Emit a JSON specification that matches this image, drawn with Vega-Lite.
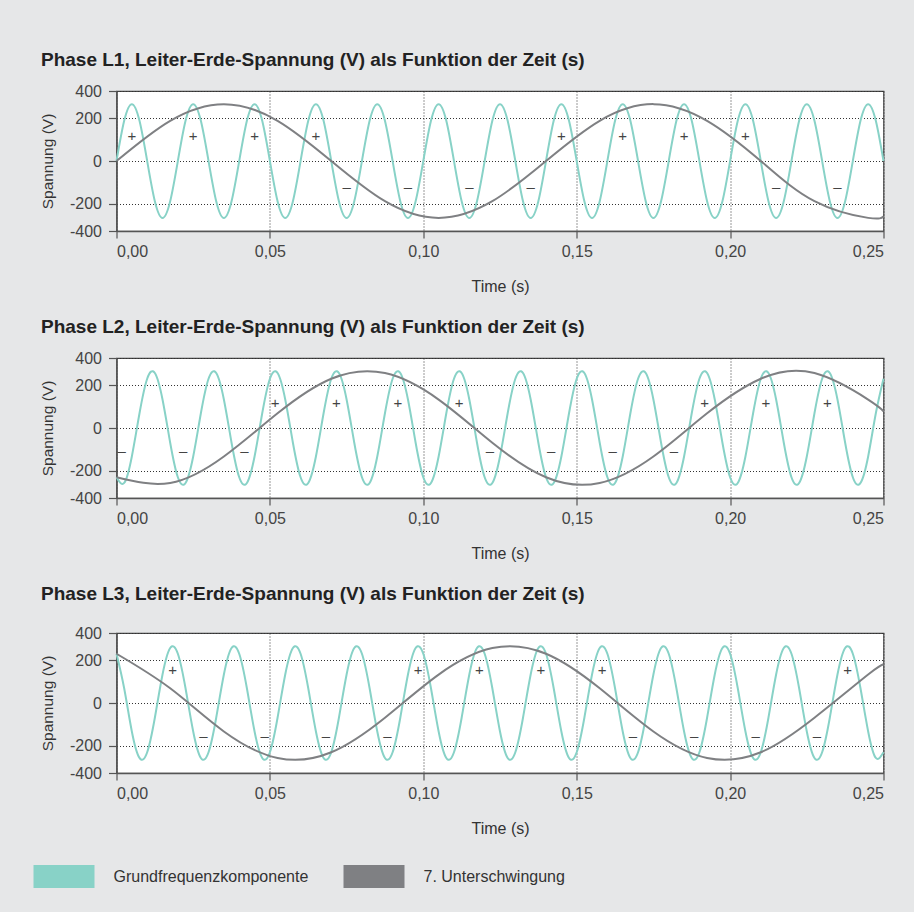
{
  "$schema": "https://vega.github.io/schema/vega-lite/v6.json",
  "background": "#e6e7e8",
  "padding": {"left": 21.5, "top": 49, "right": 26, "bottom": 0},
  "datasets": {
    "teal1": [
      {"t":0,"u":0},{"t":0.0025,"u":229.8},{"t":0.005,"u":325},{"t":0.0075,"u":229.8},{"t":0.01,"u":0},{"t":0.0125,"u":-229.8},{"t":0.015,"u":-325},{"t":0.0175,"u":-229.8},
      {"t":0.02,"u":0},{"t":0.0225,"u":229.8},{"t":0.025,"u":325},{"t":0.0275,"u":229.8},{"t":0.03,"u":0},{"t":0.0325,"u":-229.8},{"t":0.035,"u":-325},{"t":0.0375,"u":-229.8},
      {"t":0.04,"u":0},{"t":0.0425,"u":229.8},{"t":0.045,"u":325},{"t":0.0475,"u":229.8},{"t":0.05,"u":0},{"t":0.0525,"u":-229.8},{"t":0.055,"u":-325},{"t":0.0575,"u":-229.8},
      {"t":0.06,"u":0},{"t":0.0625,"u":229.8},{"t":0.065,"u":325},{"t":0.0675,"u":229.8},{"t":0.07,"u":0},{"t":0.0725,"u":-229.8},{"t":0.075,"u":-325},{"t":0.0775,"u":-229.8},
      {"t":0.08,"u":0},{"t":0.0825,"u":229.8},{"t":0.085,"u":325},{"t":0.0875,"u":229.8},{"t":0.09,"u":0},{"t":0.0925,"u":-229.8},{"t":0.095,"u":-325},{"t":0.0975,"u":-229.8},
      {"t":0.1,"u":0},{"t":0.1025,"u":229.8},{"t":0.105,"u":325},{"t":0.1075,"u":229.8},{"t":0.11,"u":0},{"t":0.1125,"u":-229.8},{"t":0.115,"u":-325},{"t":0.1175,"u":-229.8},
      {"t":0.12,"u":0},{"t":0.1225,"u":229.8},{"t":0.125,"u":325},{"t":0.1275,"u":229.8},{"t":0.13,"u":0},{"t":0.1325,"u":-229.8},{"t":0.135,"u":-325},{"t":0.1375,"u":-229.8},
      {"t":0.14,"u":0},{"t":0.1425,"u":229.8},{"t":0.145,"u":325},{"t":0.1475,"u":229.8},{"t":0.15,"u":0},{"t":0.1525,"u":-229.8},{"t":0.155,"u":-325},{"t":0.1575,"u":-229.8},
      {"t":0.16,"u":0},{"t":0.1625,"u":229.8},{"t":0.165,"u":325},{"t":0.1675,"u":229.8},{"t":0.17,"u":0},{"t":0.1725,"u":-229.8},{"t":0.175,"u":-325},{"t":0.1775,"u":-229.8},
      {"t":0.18,"u":0},{"t":0.1825,"u":229.8},{"t":0.185,"u":325},{"t":0.1875,"u":229.8},{"t":0.19,"u":0},{"t":0.1925,"u":-229.8},{"t":0.195,"u":-325},{"t":0.1975,"u":-229.8},
      {"t":0.2,"u":0},{"t":0.2025,"u":229.8},{"t":0.205,"u":325},{"t":0.2075,"u":229.8},{"t":0.21,"u":0},{"t":0.2125,"u":-229.8},{"t":0.215,"u":-325},{"t":0.2175,"u":-229.8},
      {"t":0.22,"u":0},{"t":0.2225,"u":229.8},{"t":0.225,"u":325},{"t":0.2275,"u":229.8},{"t":0.23,"u":0},{"t":0.2325,"u":-229.8},{"t":0.235,"u":-325},{"t":0.2375,"u":-229.8},
      {"t":0.24,"u":0},{"t":0.2425,"u":229.8},{"t":0.245,"u":325},{"t":0.2475,"u":229.8},{"t":0.25,"u":0}
    ],
    "teal2": [
      {"t":0,"u":-281.5},{"t":0.0025,"u":-313.9},{"t":0.005,"u":-162.5},{"t":0.0075,"u":84.1},{"t":0.01,"u":281.5},{"t":0.0125,"u":313.9},{"t":0.015,"u":162.5},{"t":0.0175,"u":-84.1},
      {"t":0.02,"u":-281.5},{"t":0.0225,"u":-313.9},{"t":0.025,"u":-162.5},{"t":0.0275,"u":84.1},{"t":0.03,"u":281.5},{"t":0.0325,"u":313.9},{"t":0.035,"u":162.5},{"t":0.0375,"u":-84.1},
      {"t":0.04,"u":-281.5},{"t":0.0425,"u":-313.9},{"t":0.045,"u":-162.5},{"t":0.0475,"u":84.1},{"t":0.05,"u":281.5},{"t":0.0525,"u":313.9},{"t":0.055,"u":162.5},{"t":0.0575,"u":-84.1},
      {"t":0.06,"u":-281.5},{"t":0.0625,"u":-313.9},{"t":0.065,"u":-162.5},{"t":0.0675,"u":84.1},{"t":0.07,"u":281.5},{"t":0.0725,"u":313.9},{"t":0.075,"u":162.5},{"t":0.0775,"u":-84.1},
      {"t":0.08,"u":-281.5},{"t":0.0825,"u":-313.9},{"t":0.085,"u":-162.5},{"t":0.0875,"u":84.1},{"t":0.09,"u":281.5},{"t":0.0925,"u":313.9},{"t":0.095,"u":162.5},{"t":0.0975,"u":-84.1},
      {"t":0.1,"u":-281.5},{"t":0.1025,"u":-313.9},{"t":0.105,"u":-162.5},{"t":0.1075,"u":84.1},{"t":0.11,"u":281.5},{"t":0.1125,"u":313.9},{"t":0.115,"u":162.5},{"t":0.1175,"u":-84.1},
      {"t":0.12,"u":-281.5},{"t":0.1225,"u":-313.9},{"t":0.125,"u":-162.5},{"t":0.1275,"u":84.1},{"t":0.13,"u":281.5},{"t":0.1325,"u":313.9},{"t":0.135,"u":162.5},{"t":0.1375,"u":-84.1},
      {"t":0.14,"u":-281.5},{"t":0.1425,"u":-313.9},{"t":0.145,"u":-162.5},{"t":0.1475,"u":84.1},{"t":0.15,"u":281.5},{"t":0.1525,"u":313.9},{"t":0.155,"u":162.5},{"t":0.1575,"u":-84.1},
      {"t":0.16,"u":-281.5},{"t":0.1625,"u":-313.9},{"t":0.165,"u":-162.5},{"t":0.1675,"u":84.1},{"t":0.17,"u":281.5},{"t":0.1725,"u":313.9},{"t":0.175,"u":162.5},{"t":0.1775,"u":-84.1},
      {"t":0.18,"u":-281.5},{"t":0.1825,"u":-313.9},{"t":0.185,"u":-162.5},{"t":0.1875,"u":84.1},{"t":0.19,"u":281.5},{"t":0.1925,"u":313.9},{"t":0.195,"u":162.5},{"t":0.1975,"u":-84.1},
      {"t":0.2,"u":-281.5},{"t":0.2025,"u":-313.9},{"t":0.205,"u":-162.5},{"t":0.2075,"u":84.1},{"t":0.21,"u":281.5},{"t":0.2125,"u":313.9},{"t":0.215,"u":162.5},{"t":0.2175,"u":-84.1},
      {"t":0.22,"u":-281.5},{"t":0.2225,"u":-313.9},{"t":0.225,"u":-162.5},{"t":0.2275,"u":84.1},{"t":0.23,"u":281.5},{"t":0.2325,"u":313.9},{"t":0.235,"u":162.5},{"t":0.2375,"u":-84.1},
      {"t":0.24,"u":-281.5},{"t":0.2425,"u":-313.9},{"t":0.245,"u":-162.5},{"t":0.2475,"u":84.1},{"t":0.25,"u":281.5}
    ],
    "teal3": [
      {"t":0,"u":281.5},{"t":0.0025,"u":84.1},{"t":0.005,"u":-162.5},{"t":0.0075,"u":-313.9},{"t":0.01,"u":-281.5},{"t":0.0125,"u":-84.1},{"t":0.015,"u":162.5},{"t":0.0175,"u":313.9},
      {"t":0.02,"u":281.5},{"t":0.0225,"u":84.1},{"t":0.025,"u":-162.5},{"t":0.0275,"u":-313.9},{"t":0.03,"u":-281.5},{"t":0.0325,"u":-84.1},{"t":0.035,"u":162.5},{"t":0.0375,"u":313.9},
      {"t":0.04,"u":281.5},{"t":0.0425,"u":84.1},{"t":0.045,"u":-162.5},{"t":0.0475,"u":-313.9},{"t":0.05,"u":-281.5},{"t":0.0525,"u":-84.1},{"t":0.055,"u":162.5},{"t":0.0575,"u":313.9},
      {"t":0.06,"u":281.5},{"t":0.0625,"u":84.1},{"t":0.065,"u":-162.5},{"t":0.0675,"u":-313.9},{"t":0.07,"u":-281.5},{"t":0.0725,"u":-84.1},{"t":0.075,"u":162.5},{"t":0.0775,"u":313.9},
      {"t":0.08,"u":281.5},{"t":0.0825,"u":84.1},{"t":0.085,"u":-162.5},{"t":0.0875,"u":-313.9},{"t":0.09,"u":-281.5},{"t":0.0925,"u":-84.1},{"t":0.095,"u":162.5},{"t":0.0975,"u":313.9},
      {"t":0.1,"u":281.5},{"t":0.1025,"u":84.1},{"t":0.105,"u":-162.5},{"t":0.1075,"u":-313.9},{"t":0.11,"u":-281.5},{"t":0.1125,"u":-84.1},{"t":0.115,"u":162.5},{"t":0.1175,"u":313.9},
      {"t":0.12,"u":281.5},{"t":0.1225,"u":84.1},{"t":0.125,"u":-162.5},{"t":0.1275,"u":-313.9},{"t":0.13,"u":-281.5},{"t":0.1325,"u":-84.1},{"t":0.135,"u":162.5},{"t":0.1375,"u":313.9},
      {"t":0.14,"u":281.5},{"t":0.1425,"u":84.1},{"t":0.145,"u":-162.5},{"t":0.1475,"u":-313.9},{"t":0.15,"u":-281.5},{"t":0.1525,"u":-84.1},{"t":0.155,"u":162.5},{"t":0.1575,"u":313.9},
      {"t":0.16,"u":281.5},{"t":0.1625,"u":84.1},{"t":0.165,"u":-162.5},{"t":0.1675,"u":-313.9},{"t":0.17,"u":-281.5},{"t":0.1725,"u":-84.1},{"t":0.175,"u":162.5},{"t":0.1775,"u":313.9},
      {"t":0.18,"u":281.5},{"t":0.1825,"u":84.1},{"t":0.185,"u":-162.5},{"t":0.1875,"u":-313.9},{"t":0.19,"u":-281.5},{"t":0.1925,"u":-84.1},{"t":0.195,"u":162.5},{"t":0.1975,"u":313.9},
      {"t":0.2,"u":281.5},{"t":0.2025,"u":84.1},{"t":0.205,"u":-162.5},{"t":0.2075,"u":-313.9},{"t":0.21,"u":-281.5},{"t":0.2125,"u":-84.1},{"t":0.215,"u":162.5},{"t":0.2175,"u":313.9},
      {"t":0.22,"u":281.5},{"t":0.2225,"u":84.1},{"t":0.225,"u":-162.5},{"t":0.2275,"u":-313.9},{"t":0.23,"u":-281.5},{"t":0.2325,"u":-84.1},{"t":0.235,"u":162.5},{"t":0.2375,"u":313.9},
      {"t":0.24,"u":281.5},{"t":0.2425,"u":84.1},{"t":0.245,"u":-162.5},{"t":0.2475,"u":-313.9},{"t":0.25,"u":-281.5}
    ],
    "gray1": [
      {"t":0,"u":0},{"t":0.0175,"u":229.8},{"t":0.035,"u":325},{"t":0.0525,"u":229.8},{"t":0.07,"u":0},{"t":0.0875,"u":-229.8},{"t":0.105,"u":-325},{"t":0.1225,"u":-229.8},
      {"t":0.14,"u":0},{"t":0.1575,"u":229.8},{"t":0.175,"u":325},{"t":0.1925,"u":229.8},{"t":0.21,"u":0},{"t":0.2275,"u":-229.8},{"t":0.245,"u":-325},{"t":0.25,"u":-316.8}
    ],
    "gray2": [
      {"t":0,"u":-281.5},{"t":0.0175,"u":-313.9},{"t":0.035,"u":-162.5},{"t":0.0525,"u":84.1},{"t":0.07,"u":281.5},{"t":0.0875,"u":313.9},{"t":0.105,"u":162.5},{"t":0.1225,"u":-84.1},
      {"t":0.14,"u":-281.5},{"t":0.1575,"u":-313.9},{"t":0.175,"u":-162.5},{"t":0.1925,"u":84.1},{"t":0.21,"u":281.5},{"t":0.2275,"u":313.9},{"t":0.245,"u":162.5},{"t":0.25,"u":95.8}
    ],
    "gray3": [
      {"t":0,"u":281.5},{"t":0.0175,"u":84.1},{"t":0.035,"u":-162.5},{"t":0.0525,"u":-313.9},{"t":0.07,"u":-281.5},{"t":0.0875,"u":-84.1},{"t":0.105,"u":162.5},{"t":0.1225,"u":313.9},
      {"t":0.14,"u":281.5},{"t":0.1575,"u":84.1},{"t":0.175,"u":-162.5},{"t":0.1925,"u":-313.9},{"t":0.21,"u":-281.5},{"t":0.2275,"u":-84.1},{"t":0.245,"u":162.5},{"t":0.25,"u":221.0}
    ],
    "sign1": [
      {"t":0.005,"u":143,"s":"+"},{"t":0.025,"u":143,"s":"+"},{"t":0.045,"u":143,"s":"+"},{"t":0.065,"u":143,"s":"+"},
      {"t":0.145,"u":143,"s":"+"},{"t":0.165,"u":143,"s":"+"},{"t":0.185,"u":143,"s":"+"},{"t":0.205,"u":143,"s":"+"},
      {"t":0.075,"u":-150,"s":"–"},{"t":0.095,"u":-150,"s":"–"},{"t":0.115,"u":-150,"s":"–"},{"t":0.135,"u":-150,"s":"–"},
      {"t":0.215,"u":-150,"s":"–"},{"t":0.235,"u":-150,"s":"–"}
    ],
    "sign2": [
      {"t":0.0517,"u":141,"s":"+"},{"t":0.0717,"u":141,"s":"+"},{"t":0.0917,"u":141,"s":"+"},{"t":0.1117,"u":141,"s":"+"},
      {"t":0.1917,"u":141,"s":"+"},{"t":0.2117,"u":141,"s":"+"},{"t":0.2317,"u":141,"s":"+"},
      {"t":0.0017,"u":-130,"s":"–"},{"t":0.0217,"u":-130,"s":"–"},{"t":0.0417,"u":-130,"s":"–"},
      {"t":0.1217,"u":-130,"s":"–"},{"t":0.1417,"u":-130,"s":"–"},{"t":0.1617,"u":-130,"s":"–"},{"t":0.1817,"u":-130,"s":"–"}
    ],
    "sign3": [
      {"t":0.0183,"u":189,"s":"+"},{"t":0.0983,"u":189,"s":"+"},{"t":0.1183,"u":189,"s":"+"},{"t":0.1383,"u":189,"s":"+"},
      {"t":0.1583,"u":189,"s":"+"},{"t":0.2383,"u":189,"s":"+"},
      {"t":0.0283,"u":-189,"s":"–"},{"t":0.0483,"u":-189,"s":"–"},{"t":0.0683,"u":-189,"s":"–"},{"t":0.0883,"u":-189,"s":"–"},
      {"t":0.1683,"u":-189,"s":"–"},{"t":0.1883,"u":-189,"s":"–"},{"t":0.2083,"u":-189,"s":"–"},{"t":0.2283,"u":-189,"s":"–"}
    ]
  },
  "spacing": 21,
  "resolve": {"scale": {"color": "shared"}, "legend": {"color": "shared"}},
  "vconcat": [
    {
      "title": {"text": "Phase L1, Leiter-Erde-Spannung (V) als Funktion der Zeit (s)", "offset": 13.5},
      "width": 767, "height": 140,
      "encoding": {
        "x": {"field": "t", "type": "quantitative", "scale": {"domain": [0, 0.25], "nice": false, "zero": false},
              "axis": {"title": "Time (s)", "values": [0, 0.05, 0.1, 0.15, 0.2, 0.25], "grid": true, "labelExpr": "replace(format(datum.value, '.2f'), '.', ',')"}},
        "y": {"field": "u", "type": "quantitative", "scale": {"domain": [-400, 400], "nice": false, "zero": false},
              "axis": {"title": "Spannung (V)", "values": [-400, -245, 0, 245, 400], "grid": true, "labelOverlap": false, "labelExpr": "datum.value == 400 ? '400' : datum.value == 245 ? '200' : datum.value == 0 ? '0' : datum.value == -245 ? '-200' : '-400'"}}
      },
      "layer": [
        {"data": {"name": "teal1"}, "mark": {"type": "line", "interpolate": "natural", "strokeWidth": 2},
         "encoding": {"color": {"datum": "Grundfrequenzkomponente", "type": "nominal", "scale": {"domain": ["Grundfrequenzkomponente", "7. Unterschwingung"], "range": ["#88d2c7", "#7f8083"]}, "legend": {"title": null}}}},
        {"data": {"name": "gray1"}, "mark": {"type": "line", "interpolate": "natural", "strokeWidth": 2},
         "encoding": {"color": {"datum": "7. Unterschwingung", "type": "nominal"}}},
        {"data": {"name": "sign1"}, "mark": {"type": "text", "fontSize": 15, "color": "#444", "baseline": "middle"},
         "encoding": {"text": {"field": "s"}}}
      ]
    },
    {
      "title": {"text": "Phase L2, Leiter-Erde-Spannung (V) als Funktion der Zeit (s)", "offset": 13.5},
      "width": 767, "height": 140,
      "encoding": {
        "x": {"field": "t", "type": "quantitative", "scale": {"domain": [0, 0.25], "nice": false, "zero": false},
              "axis": {"title": "Time (s)", "values": [0, 0.05, 0.1, 0.15, 0.2, 0.25], "grid": true, "labelExpr": "replace(format(datum.value, '.2f'), '.', ',')"}},
        "y": {"field": "u", "type": "quantitative", "scale": {"domain": [-400, 400], "nice": false, "zero": false},
              "axis": {"title": "Spannung (V)", "values": [-400, -245, 0, 245, 400], "grid": true, "labelOverlap": false, "labelExpr": "datum.value == 400 ? '400' : datum.value == 245 ? '200' : datum.value == 0 ? '0' : datum.value == -245 ? '-200' : '-400'"}}
      },
      "layer": [
        {"data": {"name": "teal2"}, "mark": {"type": "line", "interpolate": "natural", "strokeWidth": 2},
         "encoding": {"color": {"datum": "Grundfrequenzkomponente", "type": "nominal", "scale": {"domain": ["Grundfrequenzkomponente", "7. Unterschwingung"], "range": ["#88d2c7", "#7f8083"]}, "legend": {"title": null}}}},
        {"data": {"name": "gray2"}, "mark": {"type": "line", "interpolate": "natural", "strokeWidth": 2},
         "encoding": {"color": {"datum": "7. Unterschwingung", "type": "nominal"}}},
        {"data": {"name": "sign2"}, "mark": {"type": "text", "fontSize": 15, "color": "#444", "baseline": "middle"},
         "encoding": {"text": {"field": "s"}}}
      ]
    },
    {
      "title": {"text": "Phase L3, Leiter-Erde-Spannung (V) als Funktion der Zeit (s)", "offset": 21.5},
      "width": 767, "height": 140,
      "encoding": {
        "x": {"field": "t", "type": "quantitative", "scale": {"domain": [0, 0.25], "nice": false, "zero": false},
              "axis": {"title": "Time (s)", "values": [0, 0.05, 0.1, 0.15, 0.2, 0.25], "grid": true, "labelExpr": "replace(format(datum.value, '.2f'), '.', ',')"}},
        "y": {"field": "u", "type": "quantitative", "scale": {"domain": [-400, 400], "nice": false, "zero": false},
              "axis": {"title": "Spannung (V)", "values": [-400, -245, 0, 245, 400], "grid": true, "labelOverlap": false, "labelExpr": "datum.value == 400 ? '400' : datum.value == 245 ? '200' : datum.value == 0 ? '0' : datum.value == -245 ? '-200' : '-400'"}}
      },
      "layer": [
        {"data": {"name": "teal3"}, "mark": {"type": "line", "interpolate": "natural", "strokeWidth": 2},
         "encoding": {"color": {"datum": "Grundfrequenzkomponente", "type": "nominal", "scale": {"domain": ["Grundfrequenzkomponente", "7. Unterschwingung"], "range": ["#88d2c7", "#7f8083"]}, "legend": {"title": null}}}},
        {"data": {"name": "gray3"}, "mark": {"type": "line", "interpolate": "natural", "strokeWidth": 2},
         "encoding": {"color": {"datum": "7. Unterschwingung", "type": "nominal"}}},
        {"data": {"name": "sign3"}, "mark": {"type": "text", "fontSize": 15, "color": "#444", "baseline": "middle"},
         "encoding": {"text": {"field": "s"}}}
      ]
    }
  ],
  "config": {
    "font": "Liberation Sans",
    "view": {"stroke": "#444", "strokeWidth": 1.2, "fill": "white"},
    "title": {"anchor": "start", "frame": "bounds", "fontSize": 19, "fontWeight": "bold", "color": "#222"},
    "axis": {
      "labelFontSize": 16, "labelColor": "#444",
      "titleFontSize": 16, "titleFontWeight": "normal", "titleColor": "#333",
      "domainColor": "#555", "domainWidth": 1.5, "tickColor": "#555", "tickSize": 7, "tickWidth": 1.2,
      "gridColor": "#333", "gridDash": [1, 2], "gridWidth": 1, "gridOpacity": 1
    },
    "axisX": {"titlePadding": 19, "labelPadding": 5},
    "axisY": {"titlePadding": 13.5, "labelPadding": 7, "tickSize": 8, "titleFontSize": 15.5},
    "legend": {
      "orient": "none", "legendX": -94.5, "legendY": 743.5, "direction": "horizontal",
      "labelFontSize": 16, "labelColor": "#333",
      "symbolType": "stroke", "symbolSize": 3721, "symbolStrokeWidth": 23, "symbolOpacity": 1,
      "labelOffset": 7.5, "columnPadding": -12, "labelLimit": 400
    }
  }
}
